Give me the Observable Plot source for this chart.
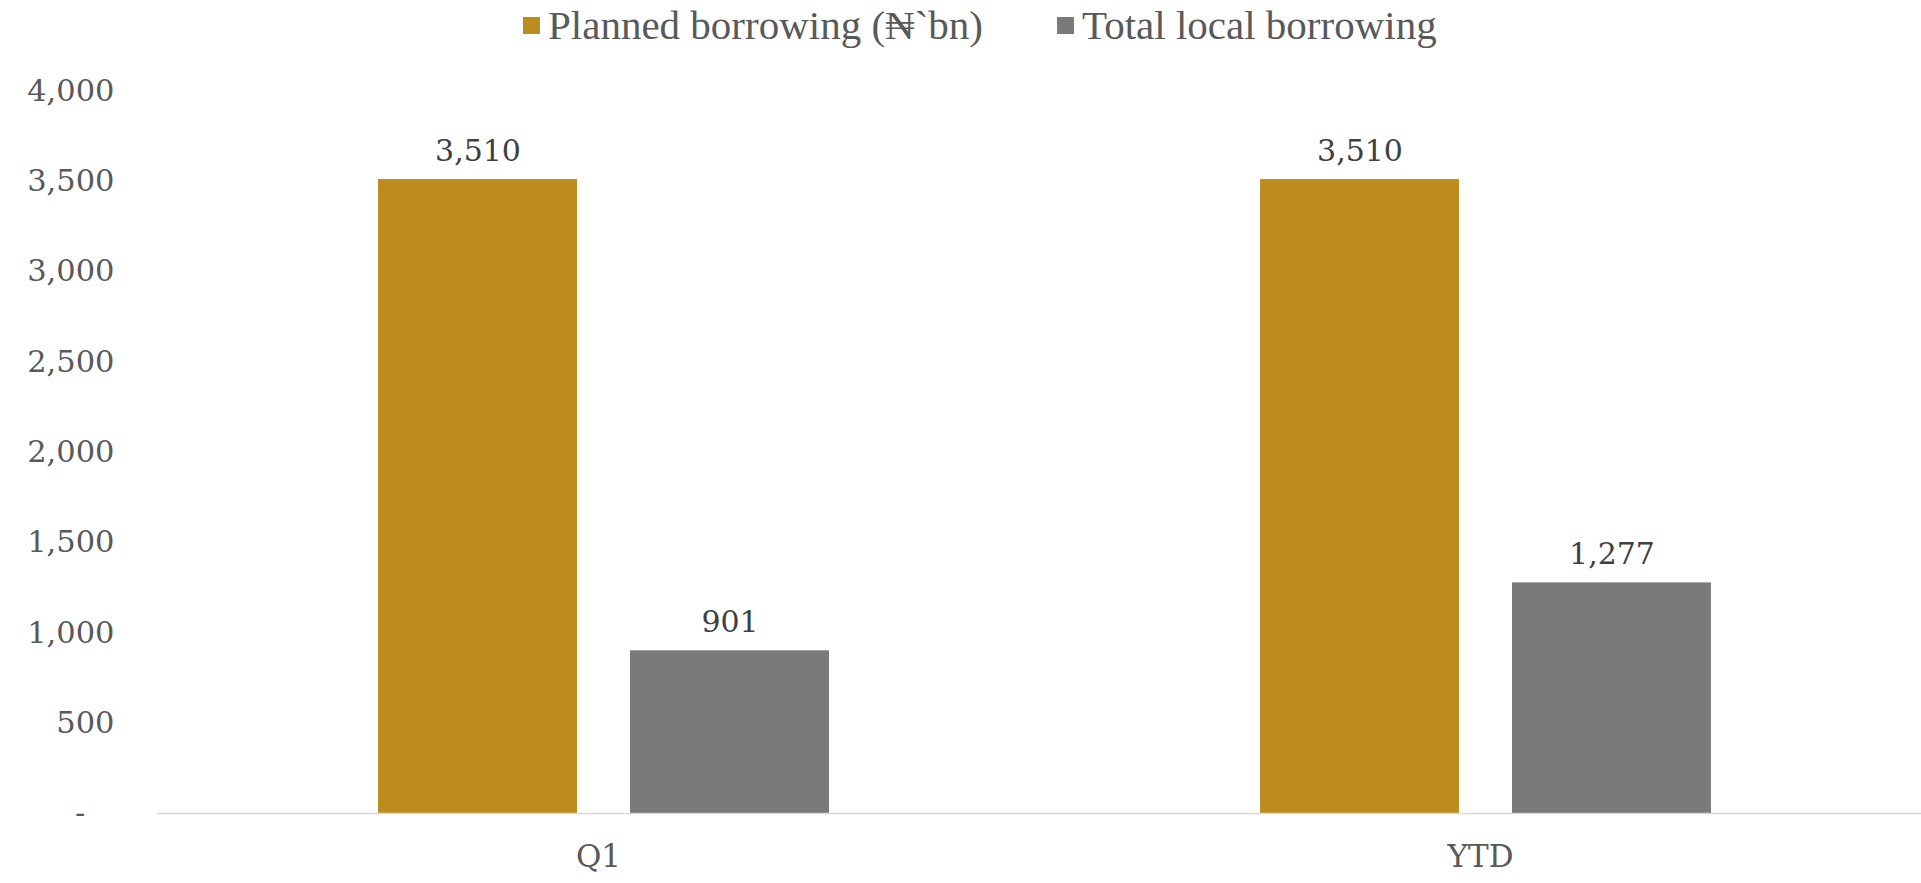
<!DOCTYPE html>
<html>
<head>
<meta charset="utf-8">
<script src="https://cdn.jsdelivr.net/npm/d3@7"></script>
<script src="https://cdn.jsdelivr.net/npm/@observablehq/plot@0.6"></script>
<style>
  html, body { margin: 0; padding: 0; background: #fff; }
  #legend { height: 50px; position: relative; font-family: "Liberation Serif", "DejaVu Serif", serif; font-size: 41px; color: #595959; }
  .item { position: absolute; top: 0; height: 50px; display: flex; align-items: center; white-space: nowrap; }
  .sw { width: 17px; height: 17px; margin-right: 8px; }
</style>
</head>
<body>
<div id="legend"></div>
<div id="chart"></div>
<script>
const categories = ["Q1", "YTD"];
const seriesNames = ["Planned borrowing (₦`bn)", "Total local borrowing"];
const planned = [3510, 3510];
const totalLocal = [901, 1277];
const yTicks = [0, 500, 1000, 1500, 2000, 2500, 3000, 3500, 4000];
const colors = ["#BC8C1E", "#7A7A7A"];

const data = [];
categories.forEach((c, i) => {
  data.push({cat: c, series: seriesNames[0], value: planned[i]});
  data.push({cat: c, series: seriesNames[1], value: totalLocal[i]});
});

// legend
const legend = document.getElementById("legend");
const legendX = [523, 1057];
seriesNames.forEach((s, i) => {
  const it = document.createElement("div");
  it.className = "item";
  it.style.left = legendX[i] + "px";
  const sw = document.createElement("div");
  sw.className = "sw";
  sw.style.background = colors[i];
  it.appendChild(sw);
  const t = document.createElement("span");
  t.textContent = s;
  it.appendChild(t);
  legend.appendChild(it);
});

const fmt = d3.format(",");
const chart = Plot.plot({
  width: 1921,
  height: 833,
  marginTop: 40.6,
  marginBottom: 70,
  marginLeft: 157,
  marginRight: 0,
  style: {fontFamily: "'DejaVu Serif', Georgia, serif", background: "#fff"},
  fx: {domain: categories, padding: 0, label: null},
  x: {domain: seriesNames, paddingInner: 0.21, paddingOuter: 0.855, align: 0.512, axis: null},
  y: {domain: [0, 4000], label: null},
  color: {domain: seriesNames, range: colors},
  marks: [
    Plot.axisY({ticks: yTicks, tickSize: 0, tickPadding: 43, fontSize: 30.5, fill: "#595959",
      tickFormat: d => d === 0 ? "-\u00a0\u00a0\u00a0" : fmt(d), label: null}),
    Plot.axisFx({anchor: "bottom", tickSize: 0, tickPadding: 31, fontSize: 31, fill: "#595959", label: null}),
    Plot.barY(data, {fx: "cat", x: "series", y: "value", fill: "series"}),
    Plot.ruleY([0], {stroke: "#d9d9d9", strokeWidth: 1.5}),
    Plot.text(data, {fx: "cat", x: "series", y: "value", text: d => fmt(d.value), dy: -28,
      fontSize: 30, fill: "#404040"})
  ]
});
document.getElementById("chart").appendChild(chart);
</script>
</body>
</html>
